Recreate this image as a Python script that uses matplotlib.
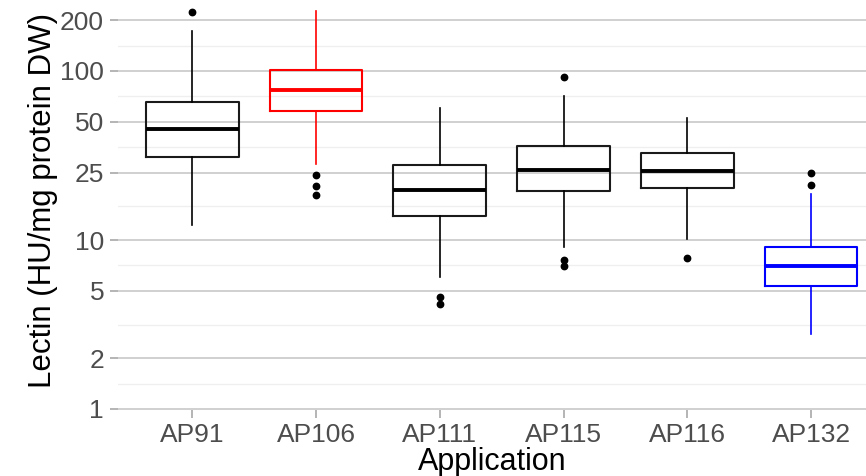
import matplotlib
matplotlib.use("Agg")
import matplotlib.pyplot as plt
import numpy as np

categories = ["AP91", "AP106", "AP111", "AP115", "AP116", "AP132"]
q1 = [31.0, 58.0, 13.9, 19.6, 20.3, 5.37]
median = [45.6, 76.9, 19.8, 25.9, 25.5, 7.05]
q3 = [65.8, 101.4, 27.9, 35.8, 32.6, 9.05]
whisker_low = [12.2, 28.0, 6.07, 9.13, 10.2, 2.77]
whisker_high = [173.0, 226.0, 60.6, 71.4, 52.5, 18.7]
outliers = [[222.0], [24.2, 20.9, 18.5], [4.62, 4.16], [91.8, 7.62, 7.05], [7.86], [24.8, 21.1]]
box_colors = ["black", "#FF0000", "black", "black", "black", "#0000FF"]
y_ticks = [1, 2, 5, 10, 25, 50, 100, 200]

plt.rcParams['font.family'] = ['Liberation Sans', 'DejaVu Sans']

fig = plt.figure(figsize=(8.66, 4.76), dpi=100)
ax = fig.add_axes([118/866, 1 - 410/476, 1 - 118/866, 410/476])

ax.set_yscale('log')
ax.set_ylim(10 ** (-1/169), 10 ** (409/169))
ax.set_xlim(0.4, 1 + (866 - 192) / 123.8)

# grid
major = np.array(y_ticks, dtype=float)
minor = np.sqrt(major[:-1] * major[1:])
for v in minor:
    ax.axhline(v, color='#EFEFEF', lw=0.9, zorder=0)
for v in major:
    ax.axhline(v, color='#C4C4C4', lw=1.1, zorder=0.5)

stats = []
for i, c in enumerate(categories):
    stats.append(dict(label=c, q1=q1[i], med=median[i], q3=q3[i],
                      whislo=whisker_low[i], whishi=whisker_high[i],
                      fliers=outliers[i]))

positions = np.arange(1, len(categories) + 1)
for i, s in enumerate(stats):
    col = box_colors[i]
    ax.bxp([s], positions=[positions[i]], widths=0.75, showcaps=False,
           boxprops=dict(color=col if col != 'black' else '#1a1a1a', lw=1.5),
           whiskerprops=dict(color=col, lw=1.2),
           medianprops=dict(color=col, lw=2.8),
           flierprops=dict(marker='o', markerfacecolor='black', markeredgecolor='black',
                           markersize=4.6, linestyle='none'),
           manage_ticks=False, zorder=3)

ax.set_xticks(positions)
ax.set_xticklabels(categories)
ax.set_yticks(y_ticks)
ax.set_yticklabels([str(t) for t in y_ticks])
ax.yaxis.set_minor_locator(matplotlib.ticker.NullLocator())

ax.tick_params(axis='both', which='major', labelsize=19, labelcolor='#4D4D4D',
               color='#A0A0A0', length=6, width=1.1, pad=4)
ax.tick_params(axis='x', pad=3.5)

for sp in ax.spines.values():
    sp.set_visible(False)

ax.set_xlabel("Application", fontsize=22, color='black')
ax.xaxis.set_label_coords(0.5, -(447 - 410) / 410)
ax.xaxis.label.set_va('top')
ax.set_ylabel("Lectin (HU/mg protein DW)", fontsize=22.5, color='black')
ax.yaxis.set_label_coords((43 - 118) / 748, 0.51)
ax.yaxis.label.set_va('center')

fig.savefig("out.png", dpi=100)
